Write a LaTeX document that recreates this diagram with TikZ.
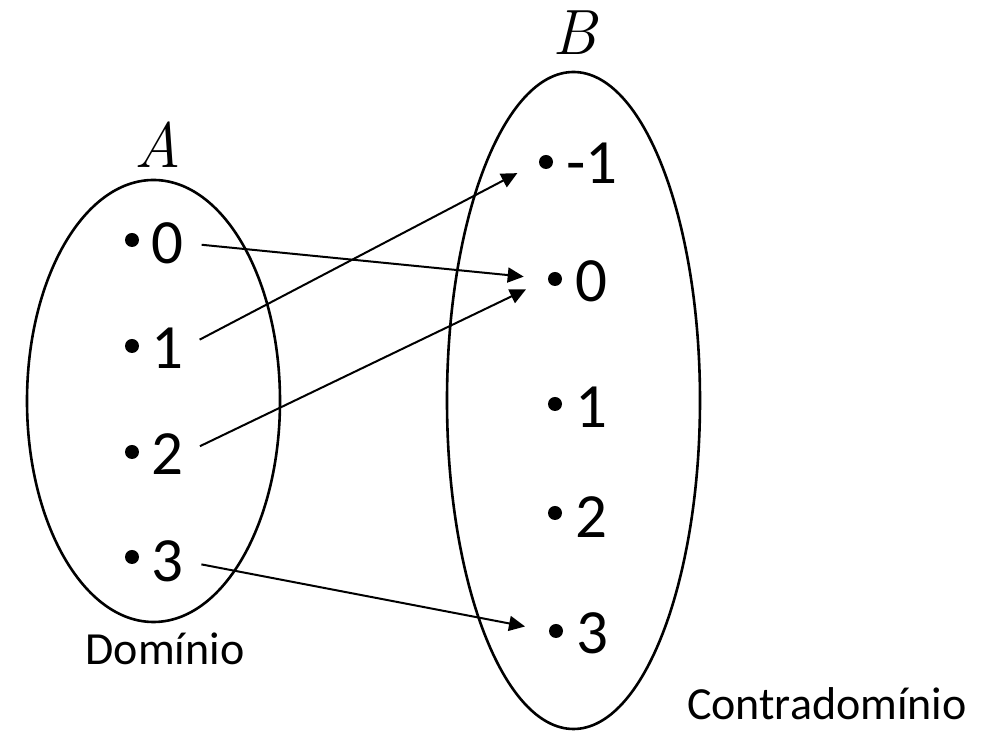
\documentclass[tikz,border=0pt]{standalone}
\usepackage{fontspec}
\setmainfont{Carlito}
\newfontfamily\setfont{Latin Modern Roman}
\usetikzlibrary{arrows.meta}

\begin{document}
\begin{tikzpicture}[x=0.5pt,y=-0.5pt,
  num/.style={anchor=west,inner sep=0pt,font=\fontsize{31.5}{36}\selectfont},
  dot/.style={circle,fill=black,inner sep=0pt,minimum size=7pt},
  setlabel/.style={font=\setfont\itshape\fontsize{32}{38}\selectfont},
  caption/.style={anchor=base,font=\fontsize{23}{28}\selectfont},
  map/.style={-{Triangle[length=8pt,width=7.5pt]},line width=1pt,shorten <=9pt,shorten >=12pt}]

\useasboundingbox (0,0) rectangle (998,731);

% Sets
\draw[line width=1.3pt] (153.5,401) ellipse [x radius=63.25pt,y radius=110.5pt];
\draw[line width=1.3pt] (573.5,400.5) ellipse [x radius=63.25pt,y radius=164.25pt];

\node[setlabel] (labA) at (158,145) {A};
\node[setlabel] (labB) at (575,33) {B};

% Elements of A
\node[dot] (da0) at (132,240) {};
\node[dot] (da1) at (132,346) {};
\node[dot] (da2) at (132,452) {};
\node[dot] (da3) at (132,557) {};
\node[num] (a0) at (151,243) {0};
\node[num] (a1) at (151,348) {1};
\node[num] (a2) at (151,454) {2};
\node[num] (a3) at (151,561) {3};

% Elements of B
\node[dot] (dbm) at (546,162) {};
\node[dot] (db0) at (555,279) {};
\node[dot] (db1) at (555,404) {};
\node[dot] (db2) at (555,513) {};
\node[dot] (db3) at (556,631) {};
\node[num] (bm) at (566,163) {-1};
\node[num] (b0) at (575,281) {0};
\node[num] (b1) at (575,407) {1};
\node[num] (b2) at (575,517) {2};
\node[num] (b3) at (576,633) {3};

% Captions
\node[caption] (dom) at (165,665) {Domínio};
\node[caption,anchor=base west] (cdom) at (680,720) {Contradomínio};

% Mapping
\draw[map] (a0.east) -- (db0.west);
\draw[map] (a1.east) -- (dbm.west);
\draw[map] (a2.east) -- (db0.west);
\draw[map] (a3.east) -- (db3.west);

\end{tikzpicture}
\end{document}
